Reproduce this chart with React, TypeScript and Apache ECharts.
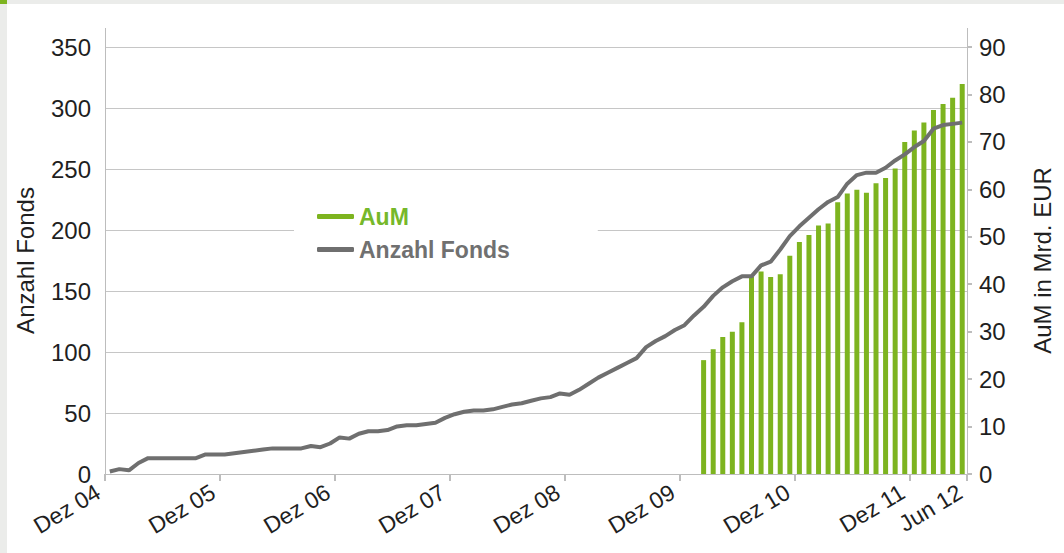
import React, { useEffect, useRef } from "react";
import * as echarts from "echarts";

// Monthly categories Jan 05 .. Jun 12 (90 months)
const monthNames = ["Jan", "Feb", "Mär", "Apr", "Mai", "Jun", "Jul", "Aug", "Sep", "Okt", "Nov", "Dez"];
const years = ["05", "06", "07", "08", "09", "10", "11", "12"];
const categories: string[] = [];
years.forEach((y) => monthNames.forEach((m) => categories.push(`${m} ${y}`)));
categories.splice(categories.indexOf("Jun 12") + 1);

// Anzahl Fonds (left axis), one value per month
const fondsCount = [
  2, 4, 3, 9, 13, 13, 13, 13, 13, 13,
  16, 16, 16, 17, 18, 19, 20, 21, 21, 21,
  21, 23, 22, 25, 30, 29, 33, 35, 35, 36,
  39, 40, 40, 41, 42, 46, 49, 51, 52, 52,
  53, 55, 57, 58, 60, 62, 63, 66, 65, 69,
  74, 79, 83, 87, 91, 95, 104, 109, 113, 118,
  122, 130, 137, 146, 153, 158, 162, 162, 171, 174,
  184, 195, 203, 210, 217, 223, 227, 238, 245, 247,
  247, 251, 257, 262, 268, 273, 283, 286, 287, 288,
];

// AuM in Mrd. EUR (right axis), from Mär 10 to Jun 12
const aumStart = "Mär 10";
const aumValues = [
  24.0, 26.3, 28.9, 30.0, 32.0, 41.5, 42.7, 41.5, 42.1, 46.0,
  48.9, 50.4, 52.4, 52.8, 57.3, 59.1, 59.9, 59.3, 61.3, 62.4,
  64.4, 70.0, 72.4, 74.1, 76.7, 78.0, 79.3, 82.2,
];

// Year ticks on the time axis (months since Dez 04)
const tickMonths = [0, 12, 24, 36, 48, 60, 72, 84, 90];
const tickLabels = ["Dez 04", "Dez 05", "Dez 06", "Dez 07", "Dez 08", "Dez 09", "Dez 10", "Dez 11", "Jun 12"];

const FONT = "'Liberation Sans', Arial, sans-serif";
const GREEN = "#7db41f";
const GREY = "#6f6f6f";
const AXIS = "#bdbdbd";

export default function App() {
  const ref = useRef<HTMLDivElement>(null);
  useEffect(() => {
    if (!ref.current) return;
    const chart = echarts.init(ref.current, null, { renderer: "svg" });
    const startIdx = categories.indexOf(aumStart);
    const aumSeries = categories.map((_, i) =>
      i >= startIdx && i - startIdx < aumValues.length ? aumValues[i - startIdx] : null
    );
    chart.setOption({
      animation: false,
      textStyle: { fontFamily: FONT },
      grid: { left: 105, right: 97, top: 47, bottom: 79, containLabel: false },
      graphic: [
        { type: "rect", shape: { x: 0, y: 0, width: 1064, height: 4 }, style: { fill: "#ebecea" }, silent: true },
        { type: "rect", shape: { x: 0, y: 0, width: 7, height: 553 }, style: { fill: "#ebecea" }, silent: true },
        { type: "rect", shape: { x: 0, y: 0, width: 7, height: 4 }, style: { fill: GREEN }, silent: true },
        { type: "line", shape: { x1: 105.5, y1: 28, x2: 105.5, y2: 47 }, style: { stroke: AXIS, lineWidth: 1 }, silent: true },
        { type: "line", shape: { x1: 967.5, y1: 28, x2: 967.5, y2: 47 }, style: { stroke: AXIS, lineWidth: 1 }, silent: true },
      ],
      legend: {
        orient: "vertical",
        left: 294,
        top: 197,
        padding: [8, 88, 8, 23],
        backgroundColor: "#ffffff",
        itemWidth: 37,
        itemHeight: 5,
        itemGap: 10,
        icon: "roundRect",
        textStyle: { fontSize: 23, fontWeight: "bold", fontFamily: FONT },
        data: [
          { name: "AuM", textStyle: { color: "#76b82a" }, itemStyle: { color: GREEN } },
          { name: "Anzahl Fonds", textStyle: { color: "#707070" }, itemStyle: { color: GREY } },
        ],
      },
      xAxis: [
        { type: "category", data: categories, boundaryGap: true, show: false },
        {
          type: "value",
          min: 0,
          max: 90,
          interval: 12,
          position: "bottom",
          axisLine: { show: true, lineStyle: { color: AXIS, width: 1 } },
          axisTick: { show: true, length: 7, lineStyle: { color: AXIS, width: 2 } },
          splitLine: { show: false },
          axisLabel: {
            rotate: 31,
            margin: 12,
            padding: [0, 8, 0, 0],
            fontSize: 23,
            color: "#1f1f1f",
            showMinLabel: true,
            showMaxLabel: true,
            hideOverlap: false,
            formatter: (v: number) => {
              const k = tickMonths.indexOf(Math.round(v));
              return k >= 0 ? tickLabels[k] : "";
            },
          },
        },
      ],
      yAxis: [
        {
          type: "value",
          min: 0,
          max: 350,
          interval: 50,
          name: "Anzahl Fonds",
          nameLocation: "middle",
          nameGap: 68,
          nameTextStyle: { fontSize: 24, color: "#1f1f1f" },
          axisLine: { show: true, lineStyle: { color: AXIS } },
          axisTick: { show: false },
          splitLine: { show: true, lineStyle: { color: "#c6c6c6", width: 1 } },
          axisLabel: { fontSize: 24, color: "#1f1f1f", margin: 14 },
        },
        {
          type: "value",
          min: 0,
          max: 90,
          interval: 10,
          position: "right",
          name: "AuM in Mrd. EUR",
          nameLocation: "middle",
          nameRotate: 90,
          nameGap: 63,
          nameTextStyle: { fontSize: 24, color: "#1f1f1f" },
          axisLine: { show: true, lineStyle: { color: AXIS } },
          axisTick: { show: true, length: 5, lineStyle: { color: AXIS, width: 2 } },
          splitLine: { show: false },
          axisLabel: { fontSize: 24, color: "#1f1f1f", margin: 12 },
        },
      ],
      series: [
        {
          name: "AuM",
          type: "bar",
          xAxisIndex: 0,
          yAxisIndex: 1,
          data: aumSeries,
          barWidth: 5,
          itemStyle: { color: GREEN },
        },
        {
          name: "Anzahl Fonds",
          type: "line",
          xAxisIndex: 0,
          yAxisIndex: 0,
          data: fondsCount,
          symbol: "none",
          lineStyle: { width: 4, color: GREY },
          itemStyle: { color: GREY },
        },
      ],
    });
    return () => chart.dispose();
  }, []);
  return (
    <div
      ref={ref}
      style={{ position: "fixed", left: 0, top: 0, width: 1064, height: 553, background: "#ffffff" }}
    />
  );
}
